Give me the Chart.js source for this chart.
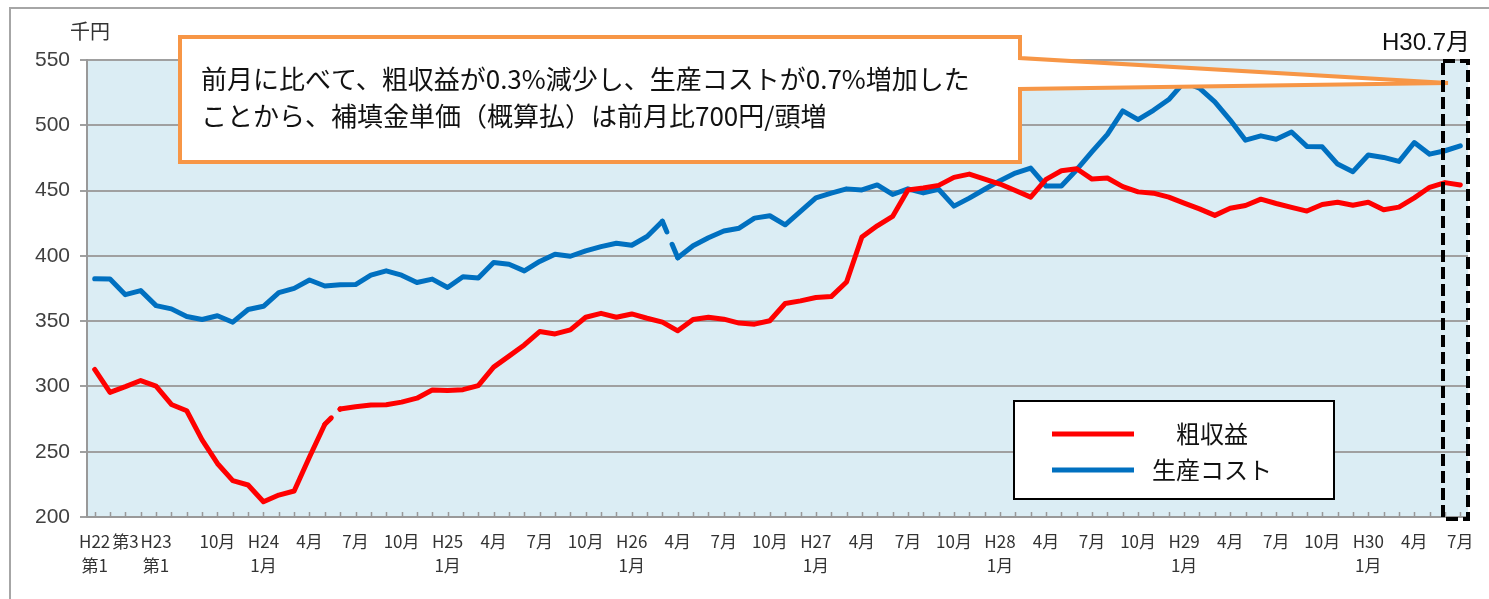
<!DOCTYPE html>
<html lang="ja">
<head>
<meta charset="utf-8">
<title>粗収益と生産コストの推移</title>
<script src="https://cdn.jsdelivr.net/npm/chart.js@4.4.1/dist/chart.umd.min.js"></script>
<style>
  html, body { margin: 0; padding: 0; background: #fff; }
  #chart { display: block; }
</style>
</head>
<body>
<canvas id="chart" width="1489" height="599"></canvas>
<script>
// x categories (quarterly at the start, then monthly)
const xLabels = [
    ['H22', '第1'], '', '第3', '', ['H23', '第1'], '', '', '', '10月', '',
    '', ['H24', '1月'], '', '', '4月', '', '', '7月', '', '',
    '10月', '', '', ['H25', '1月'], '', '', '4月', '', '', '7月',
    '', '', '10月', '', '', ['H26', '1月'], '', '', '4月', '',
    '', '7月', '', '', '10月', '', '', ['H27', '1月'], '', '',
    '4月', '', '', '7月', '', '', '10月', '', '', ['H28', '1月'],
    '', '', '4月', '', '', '7月', '', '', '10月', '',
    '', ['H29', '1月'], '', '', '4月', '', '', '7月', '', '',
    '10月', '', '', ['H30', '1月'], '', '', '4月', '', '', '7月'
];

// 粗収益 (千円)
const grossRevenue = [
    313, 295.4, 299.8, 304.5, 300.3, 286.2, 281.4, 259, 241, 227.8,
    224.5, 211.7, 216.8, 219.9, 246, 271, 282.7, 284.4, 285.7, 286,
    288, 291, 297.3, 296.8, 297.5, 300.6, 314.8, 323.2, 331.8, 342,
    340.2, 343.3, 353, 356, 353, 355.5, 352.2, 349.2, 342.6, 351.3,
    353, 351.5, 348.5, 347.7, 350.3, 363.5, 365.5, 368.1, 368.8, 380,
    414.4, 423, 430.2, 450.5, 452, 454, 460.1, 462.6, 458.8, 455,
    450, 445, 458.6, 465.2, 466.7, 458.8, 459.6, 453, 449, 448,
    445, 440.4, 436, 431, 436.5, 438.6, 443.4, 440.1, 437.1, 434.3,
    439.3, 441.1, 438.8, 441.1, 435.3, 437.3, 444.4, 452.5, 456.1, 454.3
];

// 生産コスト (千円)
const productionCost = [
    382.5, 382.2, 370.3, 373.4, 361.9, 359.4, 353.6, 351.3, 354.1, 349.2,
    358.9, 361.4, 371.8, 375.1, 381.5, 376.9, 377.9, 378, 385.2, 388.5,
    385.2, 379.6, 382.2, 375.8, 384, 383, 394.9, 393.6, 388.5, 395.7,
    401.3, 399.7, 403.8, 407.1, 409.7, 408.1, 414.8, 426.5, 398.5, 407.8,
    413.9, 419, 421.2, 428.9, 430.7, 423.8, 434, 444.4, 448, 451.3,
    450.5, 454.3, 447, 451.3, 448.2, 451, 438.1, 444.2, 451, 457.6,
    463.4, 467.2, 453.5, 453.5, 466, 479.8, 493, 511, 504.3, 511.5,
    519.7, 533, 528.5, 518, 504, 488.6, 491.9, 489.3, 494.9, 483.8,
    483.5, 470.3, 464.5, 477.2, 475.4, 472.3, 486.8, 477.9, 480.5, 484.3
];

// the series lines are broken where the basis changes
const revenueBreakAfter = 15;
const costBreakAfter = 37;

// y axis
const yMin = 200;
const yMax = 550;
const yStep = 50;

const calloutLines = [
    '前月に比べて、粗収益が0.3%減少し、生産コストが0.7%増加した',
    'ことから、補填金単価（概算払）は前月比700円/頭増'
];
const currentMonthLabel = 'H30.7月';
const unitLabel = '千円';

document.addEventListener('DOMContentLoaded', function () {

    const cjk = '"Noto Sans CJK JP", sans-serif';

    // dash pattern as fractions of the segment length -> leaves a small gap
    function gapDash(ctx, parts) {
        const len = Math.hypot(ctx.p1.x - ctx.p0.x, ctx.p1.y - ctx.p0.y);
        return parts.map(f => f * len);
    }

    const chartDecor = {
        id: 'chartDecor',
        beforeDraw(chart) {
            const { ctx, chartArea: a } = chart;
            ctx.save();
            // outer frame
            ctx.strokeStyle = '#a6a6a6';
            ctx.lineWidth = 2;
            ctx.beginPath();
            ctx.moveTo(10, 599);
            ctx.lineTo(10, 8);
            ctx.lineTo(1489, 8);
            ctx.stroke();
            // plot background
            ctx.fillStyle = '#dbedf4';
            ctx.fillRect(a.left, a.top, a.right - a.left, a.bottom - a.top);
            // unit
            ctx.fillStyle = '#333';
            ctx.font = '20px ' + cjk;
            ctx.textAlign = 'center';
            ctx.textBaseline = 'middle';
            ctx.fillText(unitLabel, 90, 31);
            ctx.restore();
        },
        beforeDatasetsDraw(chart) {
            // small tick marks pointing into the plot
            const { ctx, chartArea: a } = chart;
            const xs = chart.scales.x;
            ctx.save();
            ctx.strokeStyle = '#999';
            ctx.lineWidth = 1.5;
            ctx.beginPath();
            for (let i = 0; i < xLabels.length; i++) {
                const px = Math.round(xs.getPixelForValue(i)) + 0.5;
                ctx.moveTo(px, a.bottom);
                ctx.lineTo(px, a.bottom - 5);
            }
            ctx.stroke();
            ctx.restore();
        },
        afterDatasetsDraw(chart) {
            const ctx = chart.ctx;
            ctx.save();

            // callout box
            ctx.beginPath();
            ctx.moveTo(180, 37);
            ctx.lineTo(1020, 37);
            ctx.lineTo(1020, 58);
            ctx.lineTo(1448, 83);
            ctx.lineTo(1020, 89);
            ctx.lineTo(1020, 162);
            ctx.lineTo(180, 162);
            ctx.closePath();
            ctx.fillStyle = '#fff';
            ctx.fill();
            ctx.strokeStyle = '#f79646';
            ctx.lineWidth = 4;
            ctx.lineJoin = 'miter';
            ctx.stroke();

            ctx.fillStyle = '#111';
            ctx.font = '26px ' + cjk;
            ctx.textAlign = 'left';
            ctx.textBaseline = 'middle';
            ctx.fillText(calloutLines[0], 201, 79);
            ctx.fillText(calloutLines[1], 201, 116);

            // dashed box for the latest month
            ctx.setLineDash([12, 5]);
            ctx.strokeStyle = '#000';
            ctx.lineWidth = 4;
            ctx.strokeRect(1443, 61, 25, 458);
            ctx.setLineDash([]);

            ctx.font = '24px "Liberation Sans", ' + cjk;
            ctx.textAlign = 'right';
            ctx.textBaseline = 'alphabetic';
            ctx.fillText(currentMonthLabel, 1470, 50);

            // legend
            ctx.fillStyle = '#fff';
            ctx.fillRect(1014, 401, 320, 98);
            ctx.strokeStyle = '#000';
            ctx.lineWidth = 2;
            ctx.strokeRect(1014, 401, 320, 98);

            const rows = [434, 470];
            chart.data.datasets.forEach((ds, i) => {
                ctx.strokeStyle = ds.borderColor;
                ctx.lineWidth = 5;
                ctx.beginPath();
                ctx.moveTo(1052, rows[i]);
                ctx.lineTo(1134, rows[i]);
                ctx.stroke();
                ctx.fillStyle = '#111';
                ctx.font = '24px ' + cjk;
                ctx.textAlign = 'center';
                ctx.textBaseline = 'middle';
                ctx.fillText(ds.label, 1212, rows[i]);
            });

            ctx.restore();
        }
    };

    const chartdata = {
        labels: xLabels,
        datasets: [
            {
                label: '粗収益',
                data: grossRevenue,
                borderColor: '#ff0000',
                borderWidth: 5,
                pointRadius: 0,
                borderCapStyle: 'round',
                borderJoinStyle: 'round',
                tension: 0,
                segment: {
                    borderDash: ctx => ctx.p0DataIndex === revenueBreakAfter ? gapDash(ctx, [0.42, 0.56, 1]) : undefined
                }
            },
            {
                label: '生産コスト',
                data: productionCost,
                borderColor: '#0070c0',
                borderWidth: 5,
                pointRadius: 0,
                borderCapStyle: 'round',
                borderJoinStyle: 'round',
                tension: 0,
                segment: {
                    borderDash: ctx => ctx.p0DataIndex === costBreakAfter ? gapDash(ctx, [0.29, 0.34, 2]) : undefined
                }
            }
        ]
    };

    const chartoptions = {
        responsive: false,
        animation: false,
        devicePixelRatio: 1,
        layout: { padding: { left: 0, right: 21, top: 60, bottom: 0 } },
        plugins: {
            legend: { display: false },
            tooltip: { enabled: false }
        },
        scales: {
            x: {
                offset: true,
                grid: { display: false, drawTicks: false },
                border: { display: true, color: '#999', width: 2 },
                ticks: {
                    autoSkip: false,
                    maxRotation: 0,
                    padding: 13,
                    color: '#333',
                    font: { family: '"Liberation Sans Narrow", "Noto Sans CJK JP", sans-serif', size: 17, lineHeight: 1.4 }
                },
                afterFit: scale => { scale.height = 82; }
            },
            y: {
                min: yMin,
                max: yMax,
                grid: { color: '#a0a0a0', lineWidth: 2, tickLength: 7 },
                border: { display: true, color: '#999', width: 2 },
                ticks: {
                    stepSize: yStep,
                    padding: 10,
                    color: '#404040',
                    font: { family: '"Liberation Sans", sans-serif', size: 21 }
                },
                afterFit: scale => { scale.width = 87; }
            }
        }
    };

    const ctx = document.getElementById('chart').getContext('2d');
    new Chart(ctx, {
        type: 'line',
        data: chartdata,
        options: chartoptions,
        plugins: [chartDecor]
    });

});
</script>
</body>
</html>
